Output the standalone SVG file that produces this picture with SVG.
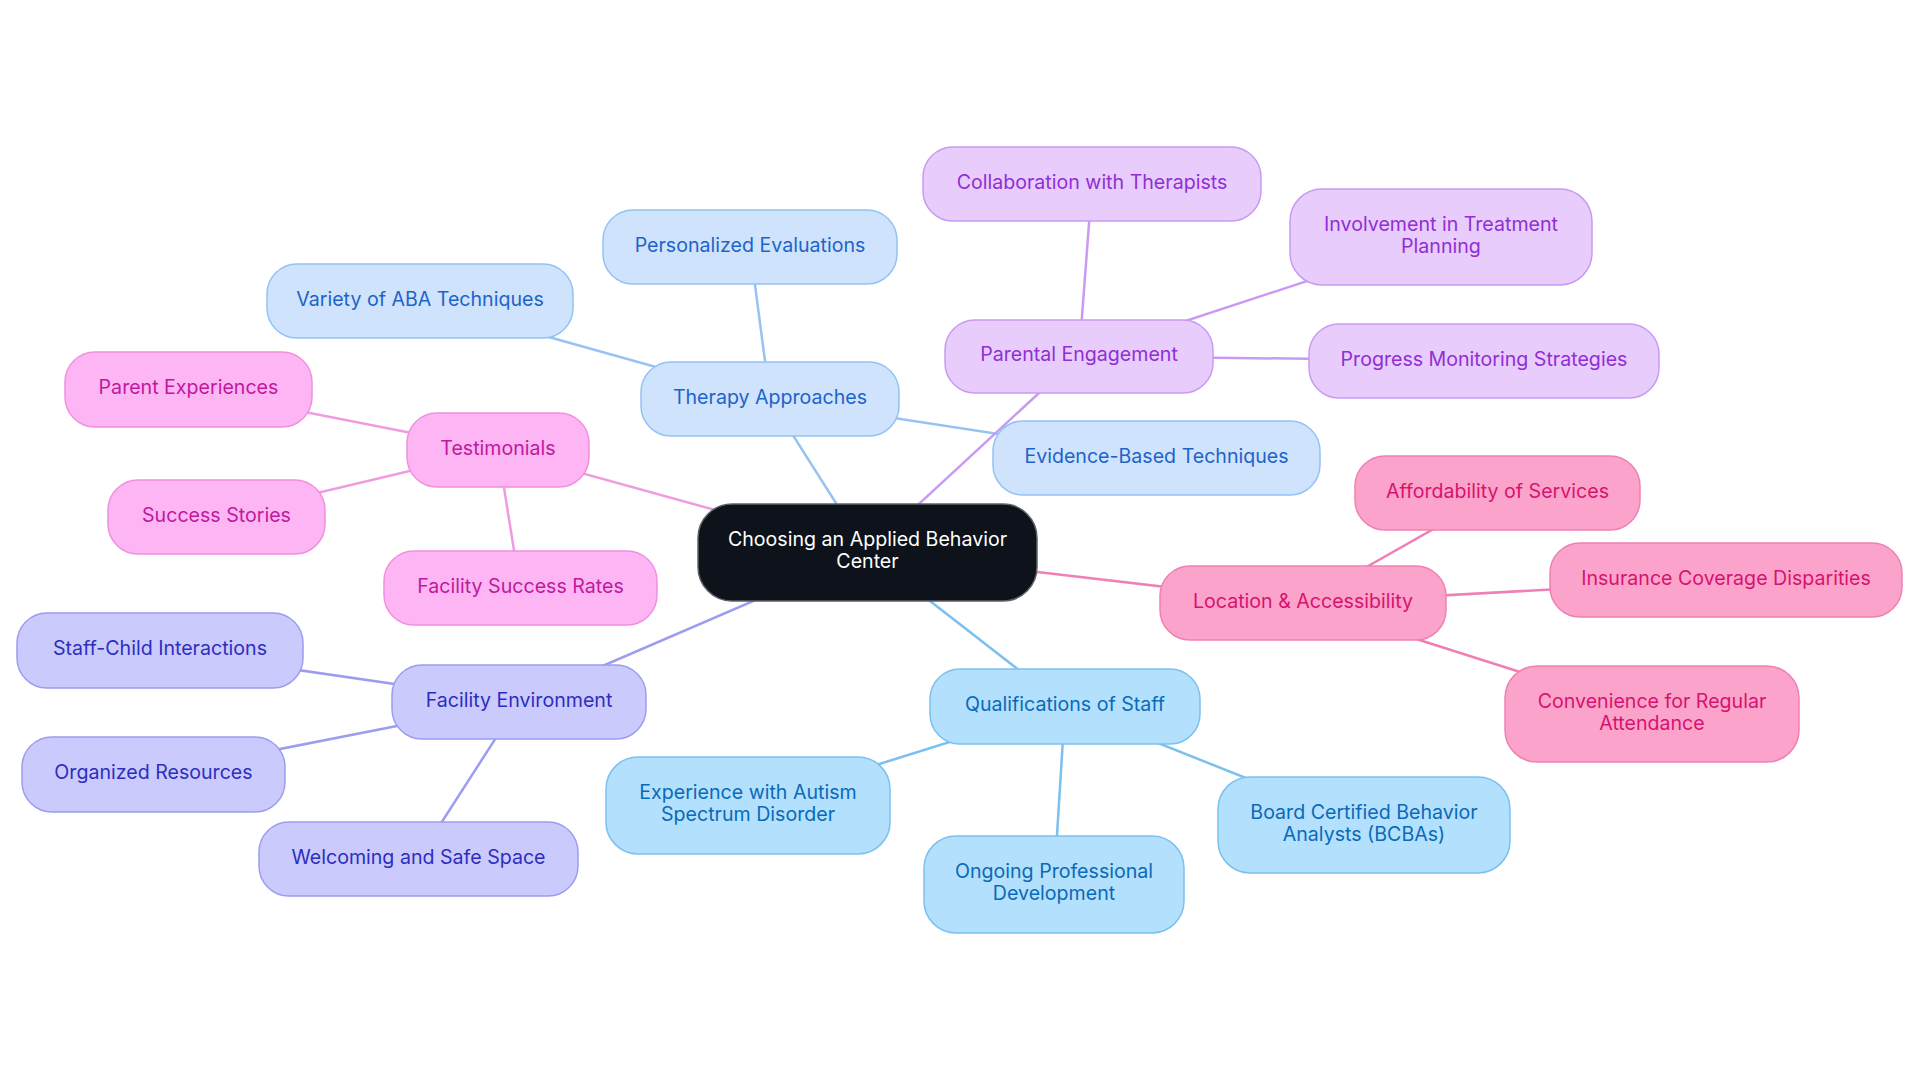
<svg xmlns="http://www.w3.org/2000/svg" width="1920" height="1083" viewBox="0 0 1920 1083">
<style>
text{font-family:Inter,"Noto Sans","Liberation Sans",sans-serif;font-size:19.6px;text-anchor:middle;dominant-baseline:central}
.c rect{fill:#0d121b;stroke:#5d6168;stroke-width:1.5}
.c text{fill:#ffffff}
.b rect{fill:#cfe3fc;stroke:#93c2f4;stroke-width:1.5}
.b text{fill:#1e63c9}
.p rect{fill:#e8ccfc;stroke:#c99af2;stroke-width:1.5}
.p text{fill:#8f2fd4}
.m rect{fill:#fdb5f3;stroke:#f090e0;stroke-width:1.5}
.m text{fill:#c0199e}
.l rect{fill:#cacbfc;stroke:#9c9cf0;stroke-width:1.5}
.l text{fill:#2d2ec0}
.s rect{fill:#b3e0fd;stroke:#7cc0ee;stroke-width:1.5}
.s text{fill:#0a6ab8}
.k rect{fill:#fca3cb;stroke:#ef80b4;stroke-width:1.5}
.k text{fill:#d6136f}
#connectors line{stroke-width:2.5;fill:none}
.eb{stroke:#97c3f3}.ep{stroke:#c99af2}.em{stroke:#f09ae0}.el{stroke:#9c9cf0}.es{stroke:#7cc0ee}.ek{stroke:#ef80b4}
</style>
<rect width="1920" height="1083" fill="#ffffff"/>
<g id="connectors">
<line class="eb" x1="867" y1="552" x2="770" y2="399"/>
<line class="eb" x1="770" y1="399" x2="750" y2="247"/>
<line class="eb" x1="770" y1="399" x2="420" y2="301"/>
<line class="eb" x1="770" y1="399" x2="1156" y2="458"/>
<line class="ep" x1="867" y1="552" x2="1079" y2="356"/>
<line class="ep" x1="1079" y1="356" x2="1092" y2="184"/>
<line class="ep" x1="1079" y1="356" x2="1441" y2="237"/>
<line class="ep" x1="1079" y1="356" x2="1484" y2="361"/>
<line class="em" x1="867" y1="552" x2="498" y2="450"/>
<line class="em" x1="498" y1="450" x2="188" y2="389"/>
<line class="em" x1="498" y1="450" x2="216" y2="517"/>
<line class="em" x1="498" y1="450" x2="520" y2="588"/>
<line class="el" x1="867" y1="552" x2="519" y2="702"/>
<line class="el" x1="519" y1="702" x2="160" y2="650"/>
<line class="el" x1="519" y1="702" x2="153" y2="774"/>
<line class="el" x1="519" y1="702" x2="418" y2="859"/>
<line class="es" x1="867" y1="552" x2="1065" y2="706"/>
<line class="es" x1="1065" y1="706" x2="748" y2="805"/>
<line class="es" x1="1065" y1="706" x2="1054" y2="884"/>
<line class="es" x1="1065" y1="706" x2="1364" y2="825"/>
<line class="ek" x1="867" y1="552" x2="1303" y2="603"/>
<line class="ek" x1="1303" y1="603" x2="1497" y2="493"/>
<line class="ek" x1="1303" y1="603" x2="1726" y2="580"/>
<line class="ek" x1="1303" y1="603" x2="1652" y2="714"/>
</g>
<g id="n-center" class="c"><rect x="698" y="504" width="339" height="97" rx="34"/><text x="867.5" y="539">Choosing an Applied Behavior</text><text x="867.5" y="561">Center</text></g>
<g id="n-therapy" class="b"><rect x="641" y="362" width="258" height="74" rx="30"/><text x="770" y="397">Therapy Approaches</text></g>
<g id="n-personalized" class="b"><rect x="603" y="210" width="294" height="74" rx="30"/><text x="750" y="245">Personalized Evaluations</text></g>
<g id="n-variety" class="b"><rect x="267" y="264" width="306" height="74" rx="30"/><text x="420" y="299">Variety of ABA Techniques</text></g>
<g id="n-evidence" class="b"><rect x="993" y="421" width="327" height="74" rx="30"/><text x="1156.5" y="456">Evidence-Based Techniques</text></g>
<g id="n-parental" class="p"><rect x="945" y="320" width="268" height="73" rx="30"/><text x="1079" y="354">Parental Engagement</text></g>
<g id="n-collab" class="p"><rect x="923" y="147" width="338" height="74" rx="30"/><text x="1092" y="182">Collaboration with Therapists</text></g>
<g id="n-involvement" class="p"><rect x="1290" y="189" width="302" height="96" rx="32"/><text x="1441" y="224">Involvement in Treatment</text><text x="1441" y="246">Planning</text></g>
<g id="n-progress" class="p"><rect x="1309" y="324" width="350" height="74" rx="30"/><text x="1484" y="359">Progress Monitoring Strategies</text></g>
<g id="n-testimonials" class="m"><rect x="407" y="413" width="182" height="74" rx="30"/><text x="498" y="448">Testimonials</text></g>
<g id="n-parentexp" class="m"><rect x="65" y="352" width="247" height="75" rx="30"/><text x="188.5" y="387">Parent Experiences</text></g>
<g id="n-success" class="m"><rect x="108" y="480" width="217" height="74" rx="30"/><text x="216.5" y="515">Success Stories</text></g>
<g id="n-facilityrates" class="m"><rect x="384" y="551" width="273" height="74" rx="30"/><text x="520.5" y="586">Facility Success Rates</text></g>
<g id="n-facilityenv" class="l"><rect x="392" y="665" width="254" height="74" rx="30"/><text x="519" y="700">Facility Environment</text></g>
<g id="n-staffchild" class="l"><rect x="17" y="613" width="286" height="75" rx="30"/><text x="160" y="648">Staff-Child Interactions</text></g>
<g id="n-organized" class="l"><rect x="22" y="737" width="263" height="75" rx="30"/><text x="153.5" y="772">Organized Resources</text></g>
<g id="n-welcoming" class="l"><rect x="259" y="822" width="319" height="74" rx="30"/><text x="418.5" y="857">Welcoming and Safe Space</text></g>
<g id="n-qualifications" class="s"><rect x="930" y="669" width="270" height="75" rx="30"/><text x="1065" y="704">Qualifications of Staff</text></g>
<g id="n-experience" class="s"><rect x="606" y="757" width="284" height="97" rx="32"/><text x="748" y="792">Experience with Autism</text><text x="748" y="814">Spectrum Disorder</text></g>
<g id="n-ongoing" class="s"><rect x="924" y="836" width="260" height="97" rx="32"/><text x="1054" y="871">Ongoing Professional</text><text x="1054" y="893">Development</text></g>
<g id="n-bcba" class="s"><rect x="1218" y="777" width="292" height="96" rx="32"/><text x="1364" y="812">Board Certified Behavior</text><text x="1364" y="834">Analysts (BCBAs)</text></g>
<g id="n-location" class="k"><rect x="1160" y="566" width="286" height="74" rx="30"/><text x="1303" y="601">Location &amp; Accessibility</text></g>
<g id="n-affordability" class="k"><rect x="1355" y="456" width="285" height="74" rx="30"/><text x="1497.5" y="491">Affordability of Services</text></g>
<g id="n-insurance" class="k"><rect x="1550" y="543" width="352" height="74" rx="30"/><text x="1726" y="578">Insurance Coverage Disparities</text></g>
<g id="n-convenience" class="k"><rect x="1505" y="666" width="294" height="96" rx="32"/><text x="1652" y="701">Convenience for Regular</text><text x="1652" y="723">Attendance</text></g>
</svg>
